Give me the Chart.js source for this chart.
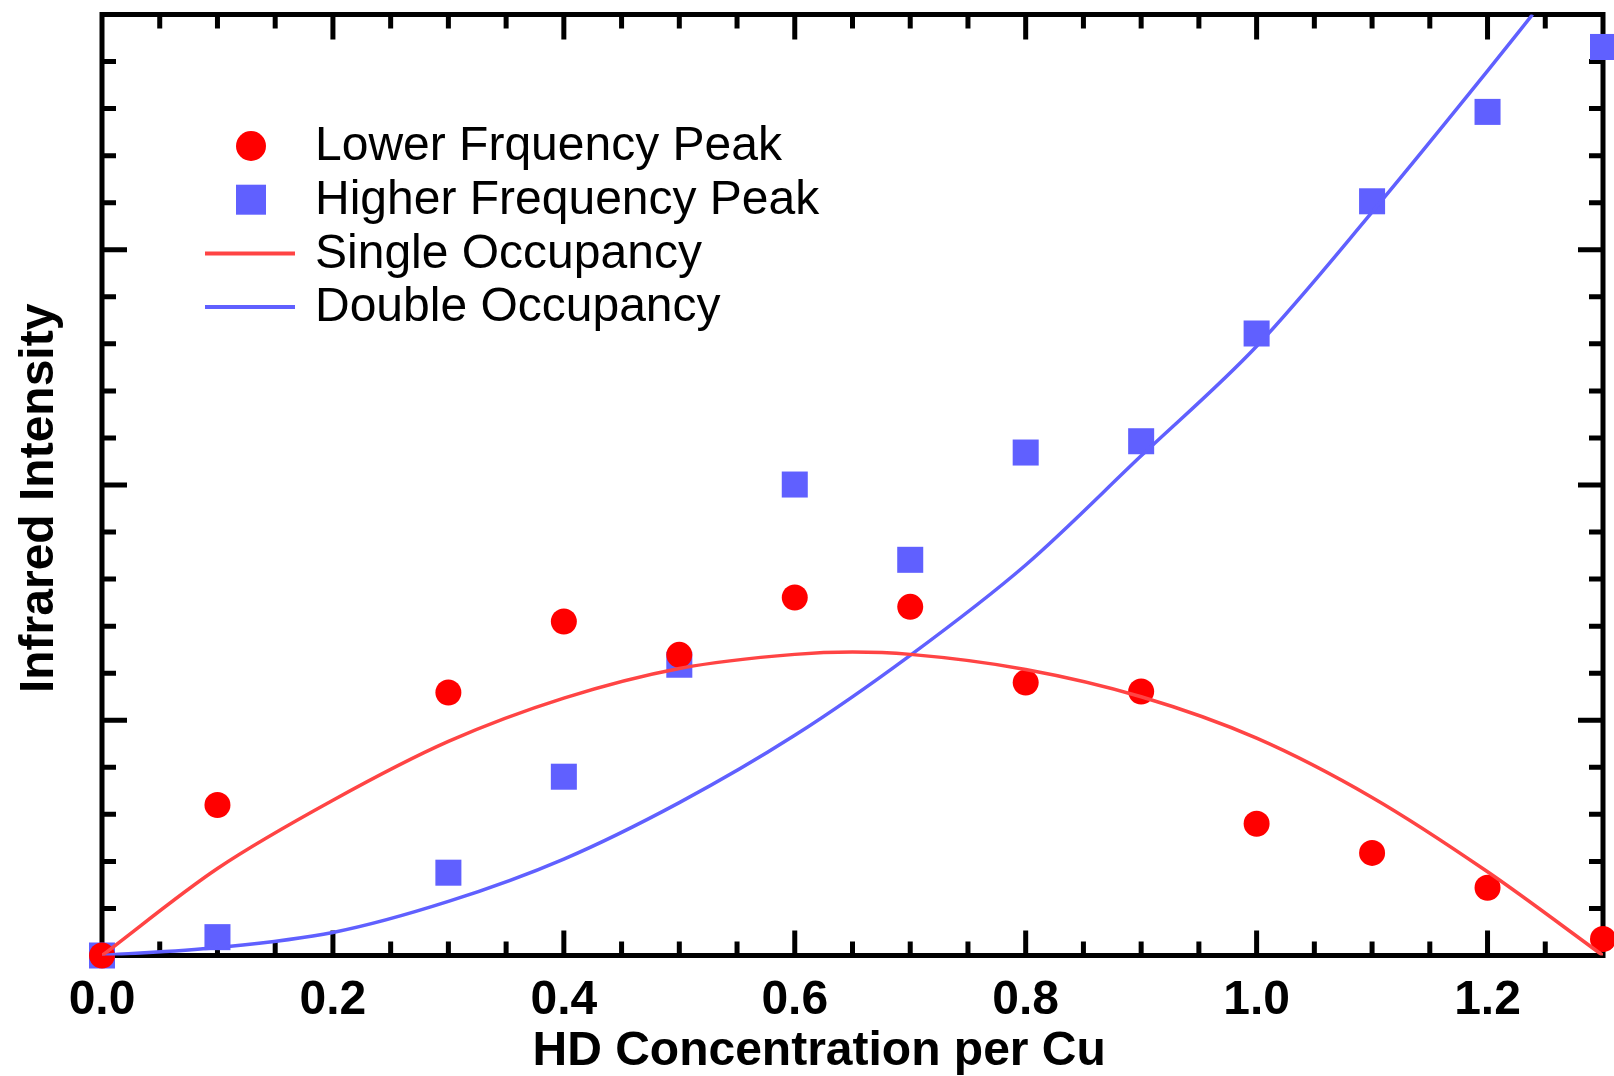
<!DOCTYPE html>
<html>
<head>
<meta charset="utf-8">
<script src="https://cdn.jsdelivr.net/npm/chart.js@4.4.1/dist/chart.umd.min.js"></script>
<style>
	body { margin: 0; background: #fff; }
	#box { width: 1614px; height: 1076px; }
</style>
</head>
<body>
<div id="box"><canvas id="graficoIR" width="1614" height="1076"></canvas></div>
<script>
// HD concentration per Cu for the measured peaks
var concentracao = [0, 0.1, 0.3, 0.4, 0.5, 0.6, 0.7, 0.8, 0.9, 1.0, 1.1, 1.2, 1.3];
var picoBaixo = [0, 3.2, 5.59, 7.1, 6.39, 7.61, 7.41, 5.8, 5.61, 2.8, 2.18, 1.44, 0.35];
var picoAlto = [0, 0.39, 1.76, 3.8, 6.18, 10.01, 8.41, 10.69, 10.93, 13.22, 16.03, 17.93, 19.31];

// model curves
var simplesX = [0, 0.1, 0.2, 0.3, 0.4, 0.5, 0.6, 0.65, 0.7, 0.8, 0.9, 1.0, 1.1, 1.2, 1.3];
var simplesY = [0, 1.85, 3.3, 4.55, 5.47, 6.1, 6.4, 6.45, 6.4, 6.08, 5.5, 4.62, 3.36, 1.78, 0];
var duplaX = [0, 0.1, 0.2, 0.3, 0.4, 0.5, 0.6, 0.7, 0.8, 0.9, 1.0, 1.1, 1.2, 1.239];
var duplaY = [0, 0.17, 0.49, 1.15, 2.05, 3.25, 4.68, 6.38, 8.3, 10.62, 12.95, 15.8, 18.8, 20];

var legendas = ['Lower Frquency Peak', 'Higher Frequency Peak', 'Single Occupancy', 'Double Occupancy'];
var xMin = 0, xMax = 1.3, xPassoMaior = 0.2, xPassoMenor = 0.05;
var yMin = 0, yMax = 20, yPassoMaior = 5, yPassoMenor = 1;

Chart.defaults.font.family = "'Liberation Sans', Arial, sans-serif";
Chart.defaults.color = '#000';

function pontos(xs, ys) {
	return xs.map(function(x, i) { return { x: x, y: ys[i] }; });
}

// black frame with inward ticks on all four sides
var moldura = {
	id: 'moldura',
	beforeDatasetsDraw: function(chart) {
		var ctx = chart.ctx, a = chart.chartArea;
		var sx = chart.scales.x, sy = chart.scales.y;
		ctx.save();
		ctx.strokeStyle = '#000';
		ctx.lineWidth = 5;
		ctx.strokeRect(a.left, a.top, a.right - a.left, a.bottom - a.top);
		ctx.beginPath();
		var n = Math.round((xMax - xMin) / xPassoMenor);
		var cada = Math.round(xPassoMaior / xPassoMenor);
		for (var i = 1; i < n; i++) {
			var px = sx.getPixelForValue(xMin + i * xPassoMenor);
			var len = (i % cada === 0) ? 25 : 14;
			ctx.moveTo(px, a.bottom); ctx.lineTo(px, a.bottom - len);
			ctx.moveTo(px, a.top); ctx.lineTo(px, a.top + len);
		}
		n = Math.round((yMax - yMin) / yPassoMenor);
		cada = Math.round(yPassoMaior / yPassoMenor);
		for (var j = 1; j < n; j++) {
			var py = sy.getPixelForValue(yMin + j * yPassoMenor);
			var l = (j % cada === 0) ? 25 : 14;
			ctx.moveTo(a.left, py); ctx.lineTo(a.left + l, py);
			ctx.moveTo(a.right, py); ctx.lineTo(a.right - l, py);
		}
		ctx.stroke();
		ctx.restore();
	}
};

// legend inside the plot, top left
var legendaInterna = {
	id: 'legendaInterna',
	afterDraw: function(chart, args, opts) {
		var ctx = chart.ctx;
		ctx.save();
		chart.data.datasets.forEach(function(ds, i) {
			var cy = opts.top + i * opts.gap;
			if (ds.showLine) {
				ctx.strokeStyle = ds.borderColor;
				ctx.lineWidth = 4;
				ctx.beginPath();
				ctx.moveTo(opts.markerX - 46, cy);
				ctx.lineTo(opts.markerX + 44, cy);
				ctx.stroke();
			} else if (ds.pointStyle === 'rect') {
				ctx.fillStyle = ds.backgroundColor;
				ctx.fillRect(opts.markerX - 15, cy - 15, 30, 30);
			} else {
				ctx.fillStyle = ds.backgroundColor;
				ctx.beginPath();
				ctx.arc(opts.markerX, cy, 15, 0, Math.PI * 2);
				ctx.fill();
			}
			ctx.fillStyle = '#000';
			ctx.font = "48px 'Liberation Sans', Arial, sans-serif";
			ctx.textBaseline = 'middle';
			ctx.textAlign = 'left';
			ctx.fillText(ds.label, opts.textX, cy + 1);
		});
		ctx.restore();
	}
};

var grafico = new Chart(document.getElementById('graficoIR').getContext('2d'), {
	type: 'scatter',
	data: {
		datasets: [{
			label: legendas[0],
			data: pontos(concentracao, picoBaixo),
			pointStyle: 'circle',
			pointRadius: 13,
			backgroundColor: '#FF0000',
			borderColor: '#FF0000',
			borderWidth: 0,
			clip: false,
			order: 1
		}, {
			label: legendas[1],
			data: pontos(concentracao, picoAlto),
			pointStyle: 'rect',
			pointRadius: 18.4,
			backgroundColor: '#6060FF',
			borderColor: '#6060FF',
			borderWidth: 0,
			clip: false,
			order: 2
		}, {
			label: legendas[2],
			data: pontos(simplesX, simplesY),
			showLine: true,
			pointRadius: 0,
			borderColor: '#FF4444',
			borderWidth: 3.5,
			cubicInterpolationMode: 'monotone',
			order: 0
		}, {
			label: legendas[3],
			data: pontos(duplaX, duplaY),
			showLine: true,
			pointRadius: 0,
			borderColor: '#6060FF',
			borderWidth: 3.5,
			cubicInterpolationMode: 'monotone',
			order: 0
		}]
	},
	options: {
		responsive: false,
		animation: false,
		layout: { autoPadding: false, padding: { top: 14.5, right: 11, bottom: 0, left: 0 } },
		plugins: {
			legend: { display: false },
			tooltip: { enabled: false },
			legendaInterna: { markerX: 251, textX: 315, top: 146, gap: 53.7 }
		},
		scales: {
			x: {
				type: 'linear',
				min: xMin,
				max: xMax,
				grid: { display: false, drawTicks: false },
				border: { display: false },
				ticks: {
					stepSize: xPassoMaior,
					includeBounds: false,
					autoSkip: false,
					maxRotation: 0,
					padding: 21,
					font: { size: 48, weight: 'bold', lineHeight: 1 },
					callback: function(v) { return v.toFixed(1); }
				},
				title: {
					display: true,
					text: 'HD Concentration per Cu     ',
					font: { size: 48, weight: 'bold', lineHeight: 1 },
					padding: { top: 1.5, bottom: 0 }
				},
				afterFit: function(s) {
					s.height = 120.5;
					s.paddingLeft = 0;
					s.paddingRight = 0;
				}
			},
			y: {
				type: 'linear',
				min: yMin,
				max: yMax,
				grid: { display: false, drawTicks: false },
				border: { display: false },
				ticks: { display: false, stepSize: yPassoMaior },
				title: {
					display: true,
					text: 'Infrared Intensity  ',
					font: { size: 48, weight: 'bold', lineHeight: 1.2 },
					padding: { top: 11, bottom: 0 }
				},
				afterFit: function(s) { s.width = 102; }
			}
		}
	},
	plugins: [moldura, legendaInterna]
});
</script>
</body>
</html>
